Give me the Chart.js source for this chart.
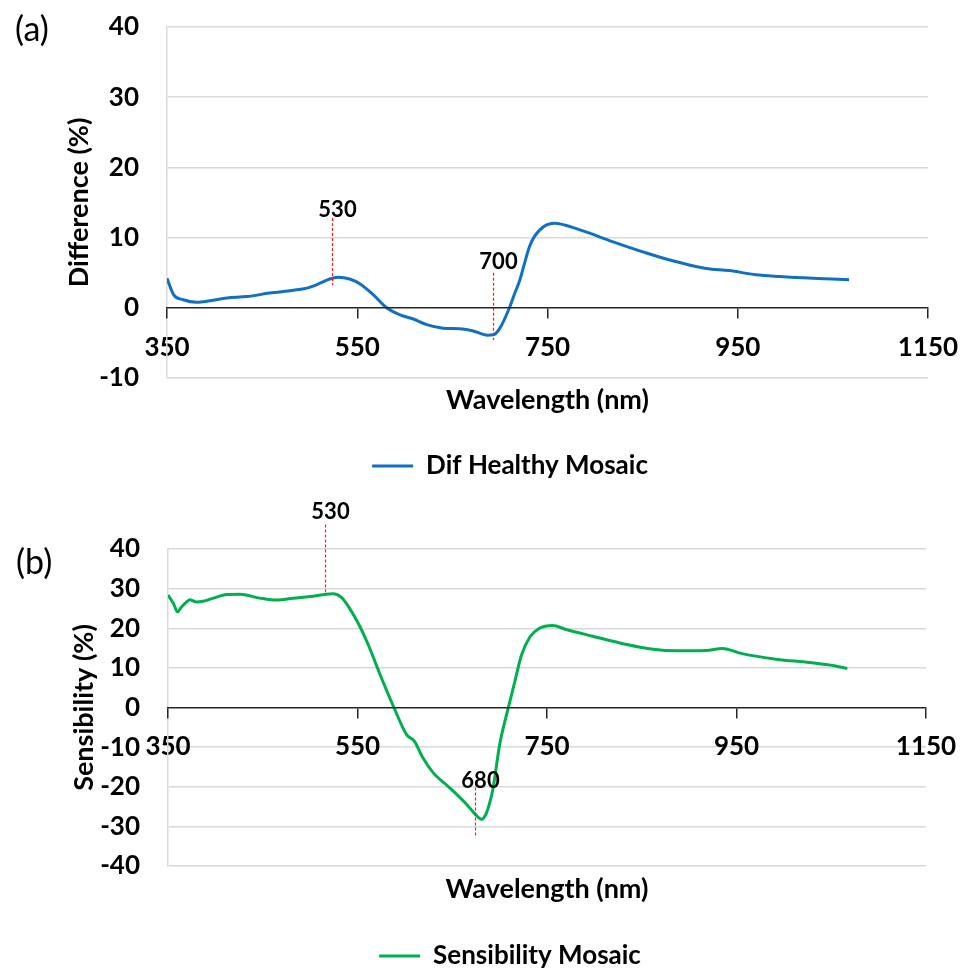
<!DOCTYPE html>
<html>
<head>
<meta charset="utf-8">
<script src="https://cdn.jsdelivr.net/npm/chart.js@4.4.1/dist/chart.umd.min.js"></script>
<style>
  html, body { margin: 0; padding: 0; background: #fff; overflow: hidden; }
  #wrapA { position: absolute; left: 0; top: 0; width: 965px; height: 489px; }
  #wrapB { position: absolute; left: 0; top: 485px; width: 965px; height: 494px; }
</style>
</head>
<body>
<div id="wrapA"><canvas id="diffChart" width="965" height="489"></canvas></div>
<div id="wrapB"><canvas id="sensChart" width="965" height="494"></canvas></div>
<script>
// --- (a) Dif Healthy Mosaic ---
const diffWavelengths = [350, 357, 367, 381, 395, 413, 434, 458, 483, 497, 511, 521, 530, 542, 553,
  567, 581, 595, 609, 623, 640, 658, 672, 687, 693, 700, 710, 715, 721, 726, 731, 736, 742, 749,
  757, 784, 819, 854, 871, 889, 917, 941, 969, 994, 1029, 1049, 1067];
const diffValues = [4.2, 1.85, 1.15, 0.8, 1.0, 1.4, 1.6, 2.1, 2.5, 2.8, 3.5, 4.1, 4.35, 4.1, 3.4,
  1.85, 0, -1.0, -1.6, -2.4, -2.9, -3.0, -3.3, -3.9, -3.85, -2.9, 0, 1.85, 4.0, 6.4, 8.7, 10.1, 11.1, 11.8,
  12.05, 11.1, 9.4, 7.8, 7.1, 6.45, 5.6, 5.3, 4.7, 4.45, 4.2, 4.1, 4.0];

// --- (b) Sensibility Mosaic ---
const sensWavelengths = [350, 356, 360, 364, 370, 373, 380, 387, 398, 412, 426, 447, 465, 482, 500,
  517, 524, 533, 542, 552, 563, 574, 588, 602, 610, 619, 630, 647, 665, 677, 681, 685, 689, 693,
  700, 709, 716, 723, 732, 742, 756, 770, 798, 834, 862, 886, 918, 935, 956, 992, 1027, 1048, 1067];
const sensValues = [28.4, 26.1, 24.1, 25.3, 26.7, 27.2, 26.6, 26.8, 27.6, 28.5, 28.6, 27.6, 27.1, 27.6, 28.0,
  28.6, 28.7, 27.8, 24.9, 20.7, 14.9, 8.2, 0.25, -6.9, -8.5, -12.7, -16.5, -20.2, -24.4, -27.6, -28.2, -27.2, -24.5, -20.5,
  -9.4, -0.2, 6.5, 13.2, 17.8, 20.0, 20.7, 19.7, 18.0, 15.9, 14.7, 14.3, 14.4, 14.9, 13.6, 12.2, 11.35, 10.7, 9.85];

// axis ticks
const xTickValues = [350, 550, 750, 950, 1150];
const diffYTicks = [-10, 0, 10, 20, 30, 40];
const sensYTicks = [-40, -30, -20, -10, 0, 10, 20, 30, 40];

// marked wavelengths (label text / where the dashed line sits)
const diffMarkerLabels = ["530", "700"];
const diffMarkerX = [523, 692.6];
const sensMarkerLabels = ["530", "680"];
const sensMarkerX = [516, 674.3];

const FONT = "Lato, 'Open Sans', sans-serif";

const markerPlugin = {
  id: "markers",
  afterDatasetsDraw(chart, args, opts) {
    const { ctx } = chart;
    const xs = chart.scales.x;
    const ys = chart.scales.y;
    ctx.save();
    opts.items.forEach((m) => {
      const px = Math.round(xs.getPixelForValue(m.x)) + 0.5;
      ctx.strokeStyle = "#ff1a1a";
      ctx.lineWidth = 1.2;
      ctx.setLineDash([3, 2]);
      ctx.beginPath();
      ctx.moveTo(px, ys.getPixelForValue(m.top));
      ctx.lineTo(px, ys.getPixelForValue(m.bottom));
      ctx.stroke();
      ctx.setLineDash([]);
      ctx.fillStyle = "#000";
      ctx.font = "bold 22px " + FONT;
      ctx.textAlign = "center";
      ctx.textBaseline = "middle";
      ctx.fillText(m.label, px + 5, ys.getPixelForValue(m.textY));
    });
    // panel tag
    ctx.font = "34px " + FONT;
    ctx.textAlign = "left";
    ctx.textBaseline = "middle";
    ctx.fillStyle = "#000";
    ctx.fillText(opts.tag, opts.tagX, opts.tagY);
    ctx.restore();
  }
};

function buildChart(id, p) {
  const tickFont = { family: FONT, size: 26, weight: "bold" };
  const titleFont = { family: FONT, size: 27, weight: "bold" };
  return new Chart(document.getElementById(id), {
    type: "line",
    data: {
      datasets: [{
        label: p.label,
        data: p.xs.map((x, i) => ({ x: x, y: p.ys[i] })),
        borderColor: p.color,
        backgroundColor: p.color,
        borderWidth: 3,
        pointRadius: 0,
        cubicInterpolationMode: "monotone",
        fill: false
      }]
    },
    options: {
      responsive: false,
      animation: false,
      events: [],
      layout: { padding: { left: 55, right: 0, top: p.top, bottom: 0 } },
      plugins: {
        legend: {
          position: "bottom",
          labels: {
            usePointStyle: true,
            pointStyle: "line",
            pointStyleWidth: 41,
            padding: 10,
            color: "#000",
            font: tickFont
          }
        },
        tooltip: { enabled: false },
        markers: { items: p.markers, tag: p.tag, tagX: p.tagX, tagY: p.tagY }
      },
      scales: {
        x: {
          type: "linear",
          position: { y: 0 },
          min: 350,
          max: 1150,
          afterBuildTicks: (s) => { s.ticks = xTickValues.map((v) => ({ value: v })); },
          afterFit: (s) => { s.paddingRight = p.padRight; },
          grid: { drawOnChartArea: false, drawTicks: true, tickLength: 10, color: "#262626", lineWidth: 1.5, z: 1 },
          border: { color: "#262626", width: 1.5, z: 1 },
          ticks: { padding: 14, color: "#000", font: tickFont, autoSkip: false, maxRotation: 0, callback: (v) => String(v) }
        },
        xTitle: {
          type: "linear",
          position: "bottom",
          min: 350,
          max: 1150,
          ticks: { display: false },
          grid: { display: false },
          border: { display: false },
          title: { display: true, text: "Wavelength (nm)", color: "#000", font: titleFont, padding: { top: 0, bottom: p.titlePad } },
          afterFit: (s) => { s.height = p.titleBox; }
        },
        y: {
          min: p.yTicks[0],
          max: p.yTicks[p.yTicks.length - 1],
          afterBuildTicks: (s) => { s.ticks = p.yTicks.map((v) => ({ value: v })); },
          afterFit: (s) => { s.width = p.left - 55; s.paddingTop = 0; s.paddingBottom = 0; },
          grid: {
            color: (c) => (c.tick && c.tick.value === 0 ? "rgba(0,0,0,0)" : "#d9d9d9"),
            lineWidth: 1.5,
            drawTicks: false
          },
          border: { color: "#d9d9d9", width: 1.5 },
          ticks: { padding: 28, color: "#000", font: tickFont, callback: (v) => String(v) },
          title: { display: true, text: p.yTitle, color: "#000", font: titleFont, padding: { top: p.yTitlePad, bottom: 0 } }
        }
      }
    },
    plugins: [markerPlugin]
  });
}

buildChart("diffChart", {
  label: "Dif Healthy Mosaic",
  xs: diffWavelengths,
  ys: diffValues,
  color: "#1071c4",
  yTicks: diffYTicks,
  yTitle: "Difference (%)",
  yTitlePad: 8,
  left: 167,
  top: 27,
  padRight: 37,
  titleBox: 65,
  titlePad: 27,
  tag: "(a)",
  tagX: 15,
  tagY: 30,
  markers: [
    { label: diffMarkerLabels[0], x: diffMarkerX[0], top: 12.8, bottom: 3.2, textY: 13.9 },
    { label: diffMarkerLabels[1], x: diffMarkerX[1], top: 5.0, bottom: -4.6, textY: 6.6 }
  ]
});

buildChart("sensChart", {
  label: "Sensibility Mosaic",
  xs: sensWavelengths,
  ys: sensValues,
  color: "#00b050",
  yTicks: sensYTicks,
  yTitle: "Sensibility (%)",
  yTitlePad: 13,
  left: 168,
  top: 64,
  padRight: 39,
  titleBox: 67,
  titlePad: 28,
  tag: "(b)",
  tagX: 16,
  tagY: 78,
  markers: [
    { label: sensMarkerLabels[0], x: sensMarkerX[0], top: 46.2, bottom: 29.1, textY: 49.3 },
    { label: sensMarkerLabels[1], x: sensMarkerX[1], top: -20.2, bottom: -32.9, textY: -18.6 }
  ]
});
</script>
</body>
</html>
